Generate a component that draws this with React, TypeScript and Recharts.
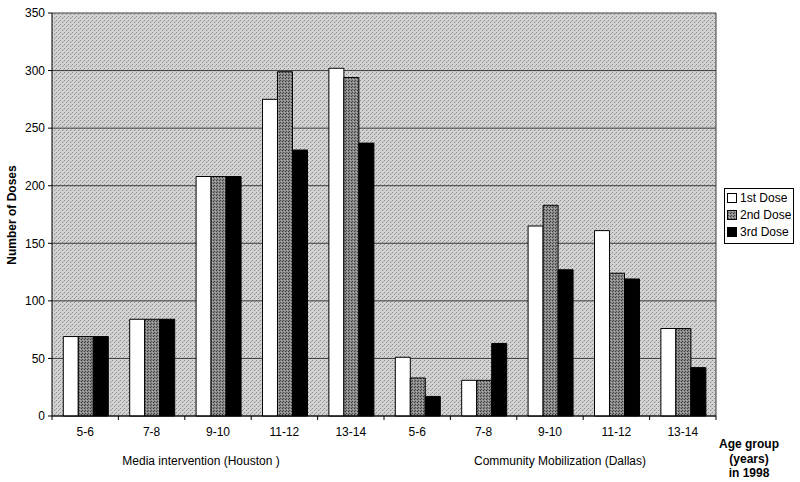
import React from "react"
import { BarChart, Bar, XAxis, YAxis, CartesianGrid } from "recharts"

const ageGroups = ["5-6", "7-8", "9-10", "11-12", "13-14"]
const sites = ["Media intervention (Houston )", "Community Mobilization (Dallas)"]
const firstDose = [69, 84, 208, 275, 302, 51, 31, 165, 161, 76]
const secondDose = [69, 84, 208, 299, 294, 33, 31, 183, 124, 76]
const thirdDose = [69, 84, 208, 231, 237, 17, 63, 127, 119, 42]
const yTicks = [0, 50, 100, 150, 200, 250, 300, 350]
const seriesNames = ["1st Dose", "2nd Dose", "3rd Dose"]

const W = 800
const H = 482
const M = { top: 13, right: 84, bottom: 36, left: 0 }
const Y_AXIS_W = 52
const PLOT_W = W - M.right - Y_AXIS_W
const FONT = "'Liberation Sans', Arial, sans-serif"

const data = firstDose.map((v, i) => ({
  key: `${sites[Math.floor(i / 5)]} ${ageGroups[i % 5]}`,
  age: ageGroups[i % 5],
  first: v,
  second: secondDose[i],
  third: thirdDose[i],
}))

const fills = ["#ffffff", "url(#dose2)", "#000000"]

function AgeTick(props: any) {
  const { x, y, index } = props
  const band = PLOT_W / data.length
  const left = x - band / 2
  return (
    <g>
      <line x1={left} y1={y - 8} x2={left} y2={y - 4} stroke="#000" />
      {index === data.length - 1 && (
        <line x1={left + band} y1={y - 8} x2={left + band} y2={y - 4} stroke="#000" />
      )}
      <text x={x} y={y + 12} textAnchor="middle" fontSize={12} fontFamily={FONT} fill="#000">
        {data[index].age}
      </text>
    </g>
  )
}

function DoseLegend() {
  return (
    <div
      style={{
        position: "absolute",
        left: 724,
        top: 188,
        width: 66,
        border: "1px solid #000",
        background: "#fff",
        padding: "1px 0 2px 2px",
        fontFamily: FONT,
        fontSize: 12,
        lineHeight: "17px",
      }}
    >
      {seriesNames.map((n, i) => (
        <div key={n} style={{ display: "flex", alignItems: "center", whiteSpace: "nowrap" }}>
          <svg width={11} height={11} style={{ marginRight: 2 }}>
            <rect x={0.5} y={0.5} width={9} height={9} fill={fills[i]} stroke="#000" />
          </svg>
          {n}
        </div>
      ))}
    </div>
  )
}

export default function App() {
  return (
    <div style={{ position: "absolute", left: 0, top: 0, width: W, height: H, background: "#fff" }}>
      <BarChart
        width={W}
        height={H}
        data={data}
        margin={M}
        barCategoryGap="17%"
        barGap={0}
      >
        <defs>
          <pattern id="bgDots" width={4} height={4} patternUnits="userSpaceOnUse">
            <rect width={4} height={4} fill="#d2d2d2" />
            <rect x={0} y={0} width={1} height={1} fill="#8c8c8c" />
            <rect x={2} y={2} width={1} height={1} fill="#8c8c8c" />
            <rect x={3} y={1} width={1} height={1} fill="#ababab" />
          </pattern>
          <pattern id="dose2" width={3} height={3} patternUnits="userSpaceOnUse">
            <rect width={3} height={3} fill="#8a8a8a" />
            <rect x={0} y={0} width={1} height={1} fill="#3a3a3a" />
            <rect x={2} y={1} width={1} height={1} fill="#b0b0b0" />
            <rect x={1} y={2} width={1} height={1} fill="#4a4a4a" />
          </pattern>
        </defs>
        <CartesianGrid
          fill="url(#bgDots)"
          fillOpacity={1}
          stroke="#3c3c3c"
          strokeWidth={1}
          verticalCoordinatesGenerator={({ offset }: any) => [offset.left + offset.width]}
        />
        <XAxis
          dataKey="key"
          interval={0}
          height={30}
          tickLine={false}
          axisLine={{ stroke: "#000" }}
          tick={<AgeTick />}
        />
        <YAxis
          width={Y_AXIS_W}
          domain={[0, 350]}
          ticks={yTicks}
          interval={0}
          tickSize={4}
          tickMargin={3}
          axisLine={{ stroke: "#000" }}
          tickLine={{ stroke: "#000" }}
          tick={{ fontSize: 12, fontFamily: FONT, fill: "#000" }}
        />
        <Bar dataKey="first" name={seriesNames[0]} fill={fills[0]} stroke="#000" strokeWidth={1} isAnimationActive={false} />
        <Bar dataKey="second" name={seriesNames[1]} fill={fills[1]} stroke="#000" strokeWidth={1} isAnimationActive={false} />
        <Bar dataKey="third" name={seriesNames[2]} fill={fills[2]} stroke="#000" strokeWidth={1} isAnimationActive={false} />
      </BarChart>

      <DoseLegend />
      <div
        style={{
          position: "absolute",
          left: 12,
          top: 215,
          transform: "translate(-50%, -50%) rotate(-90deg)",
          fontFamily: FONT,
          fontSize: 12,
          fontWeight: "bold",
          whiteSpace: "nowrap",
        }}
      >
        Number of Doses
      </div>
      {[201, 560].map((cx, i) => (
        <div
          key={sites[i]}
          style={{
            position: "absolute",
            left: cx,
            top: 461,
            transform: "translate(-50%, -50%)",
            fontFamily: FONT,
            fontSize: 12,
            whiteSpace: "nowrap",
          }}
        >
          {sites[i]}
        </div>
      ))}
      <div
        style={{
          position: "absolute",
          left: 749,
          top: 437,
          transform: "translateX(-50%)",
          fontFamily: FONT,
          fontSize: 12,
          fontWeight: "bold",
          textAlign: "center",
          lineHeight: "14.5px",
          whiteSpace: "nowrap",
        }}
      >
        Age group
        <br />
        (years)
        <br />
        in 1998
      </div>
    </div>
  )
}
